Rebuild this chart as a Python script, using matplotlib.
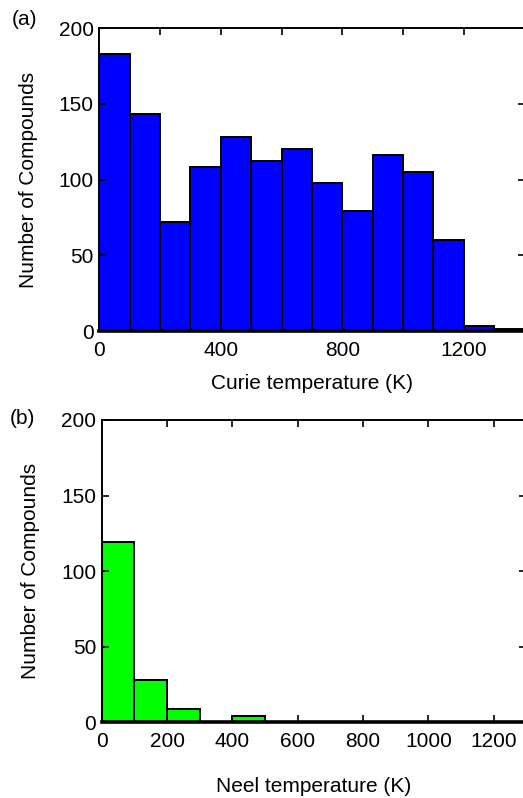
import numpy as np
import matplotlib
matplotlib.use('Agg')
import matplotlib.pyplot as plt

plt.rcParams['font.family'] = ['Liberation Sans', 'DejaVu Sans']
plt.rcParams['font.size'] = 15

# histogram bins (K) and counts
curie_edges = np.arange(0, 1500, 100)
curie_counts = [183, 143, 72, 108, 128, 112, 120, 98, 79, 116, 105, 60, 3, 1]

neel_edges = np.arange(0, 1400, 100)
neel_counts = [119, 28, 9, 0, 4, 0, 0, 0, 0, 0, 0, 0, 0]


def style_axes(ax):
    ax.tick_params(direction='in', top=True, right=True, length=5, width=1.2,
                   labelsize=15)
    ax.tick_params(axis='x', pad=7)
    ax.tick_params(axis='y', pad=4)
    for sp in ax.spines.values():
        sp.set_linewidth(1.4)
    ax.spines['bottom'].set_linewidth(2.6)
    ax.set_ylim(0, 200)
    ax.set_yticks([0, 50, 100, 150, 200])
    ax.set_ylabel('Number of Compounds', fontsize=15, labelpad=15)


fig = plt.figure(figsize=(5.23, 7.98), dpi=100)

ax1 = fig.add_axes([0.190, 0.5852, 0.813, 0.3797])
ax1.bar(curie_edges[:-1], curie_counts, width=100, align='edge',
        color='#0000ff', edgecolor='black', linewidth=1.4)
ax1.set_xlim(0, 1400)
ax1.set_xticks(np.arange(0, 1400, 200))
ax1.set_xticklabels(['0', '', '400', '', '800', '', '1200'])
style_axes(ax1)
ax1.set_xlabel('Curie temperature (K)', fontsize=15, labelpad=10)
fig.text(0.022, 0.975, '(a)', fontsize=15, va='center')

ax2 = fig.add_axes([0.1945, 0.0949, 0.812, 0.3788])
ax2.bar(neel_edges[:-1], neel_counts, width=100, align='edge',
        color='#00ff00', edgecolor='black', linewidth=1.4)
ax2.set_xlim(0, 1300)
ax2.set_xticks(np.arange(0, 1300, 200))
style_axes(ax2)
ax2.set_xlabel('Neel temperature (K)', fontsize=15, labelpad=19)
fig.text(0.019, 0.476, '(b)', fontsize=15, va='center')

fig.savefig('out.png', dpi=100)
